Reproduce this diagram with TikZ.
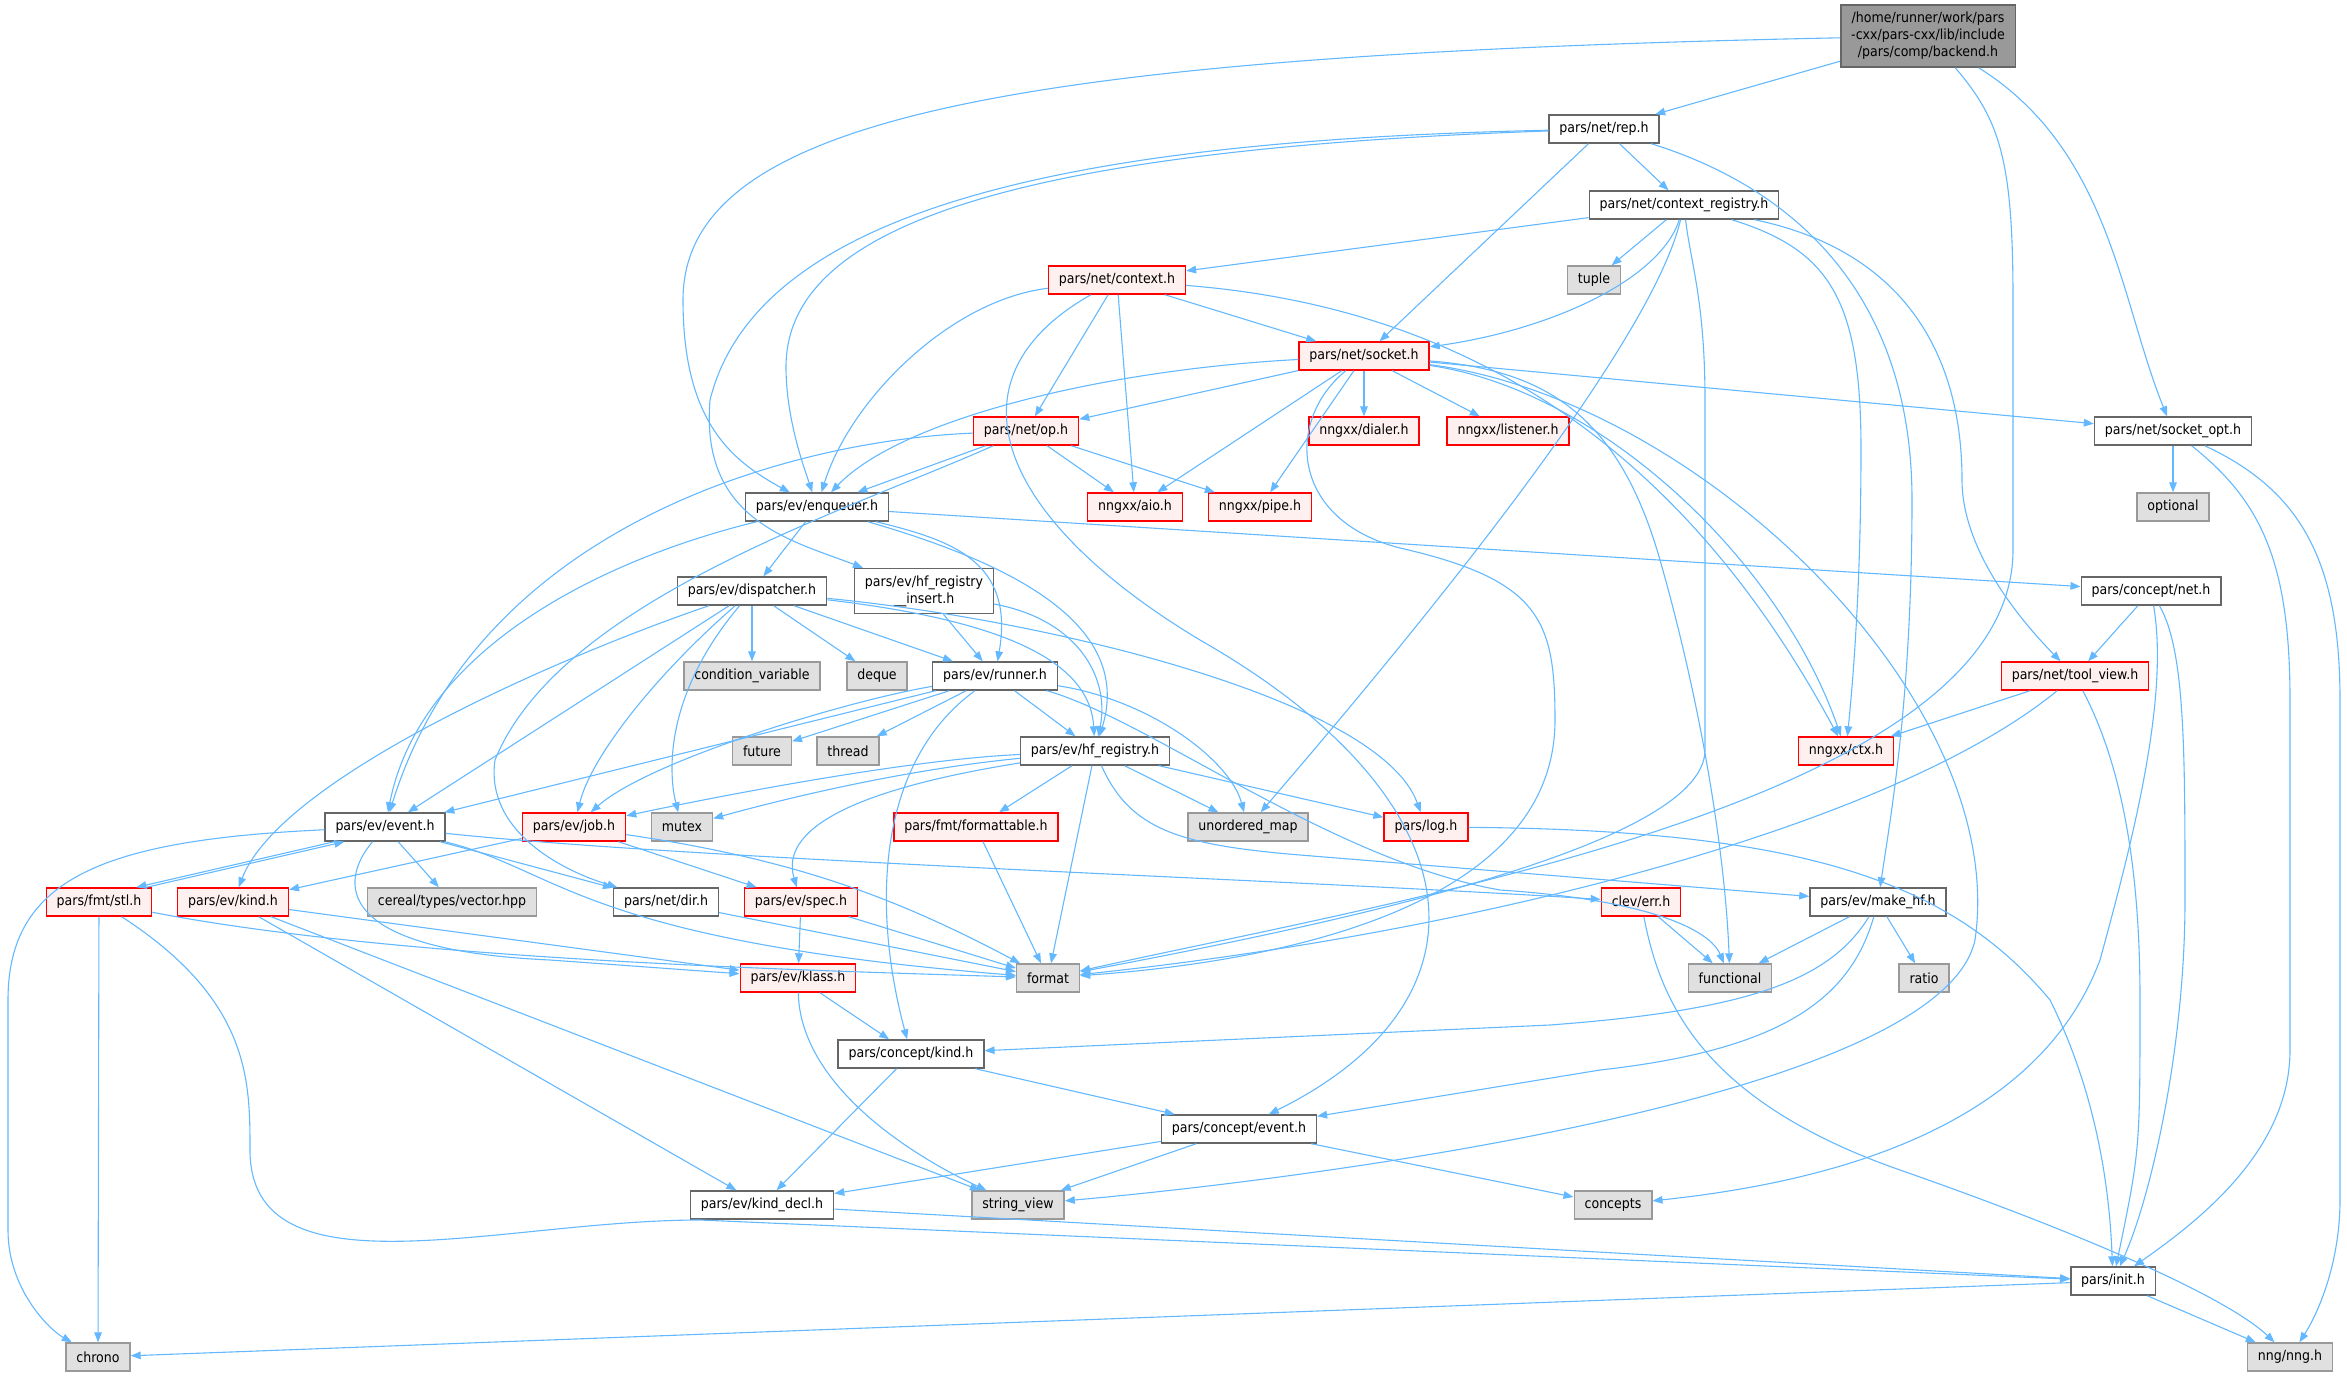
\documentclass[tikz,border=0pt]{standalone}
\usepackage{fontspec}
\setmainfont{DejaVu Sans Condensed}
\usepackage{xcolor}
\usepackage{tikz}
\usetikzlibrary{arrows.meta}

\definecolor{edgeblue}{RGB}{99,184,255}
\definecolor{boxgrey}{RGB}{102,102,102}
\definecolor{extfill}{RGB}{224,224,224}
\definecolor{extdraw}{RGB}{153,153,153}
\definecolor{redfill}{RGB}{255,240,240}
\definecolor{mainfill}{RGB}{153,153,153}

\begin{document}
\begin{tikzpicture}[x=0.5pt,y=-0.5pt,
    every node/.style={font=\fontsize{7}{8.5}\selectfont, inner xsep=5.2pt, inner ysep=0pt, minimum height=14pt, align=center},
    hdr/.style={draw=boxgrey, fill=white, line width=0.7pt},
    redhdr/.style={draw=red, fill=redfill, line width=0.7pt},
    sys/.style={draw=extdraw, fill=extfill, line width=0.7pt},
    mainhdr/.style={draw=boxgrey, fill=mainfill, line width=0.7pt, minimum height=31pt},
    dep/.style={draw=edgeblue, line width=0.55pt, -{Triangle[length=5pt,width=3.8pt]}}]
    \useasboundingbox (0,0) rectangle (2347,1376);

    \node[mainhdr] (back) at (1928,36) {/home/runner/work/pars\\-cxx/pars-cxx/lib/include\\/pars/comp/backend.h};
    \node[hdr] (rep) at (1604,129) {pars/net/rep.h};
    \node[hdr] (creg) at (1684,205) {pars/net/context\_registry.h};
    \node[sys] (tuple) at (1594,280) {tuple};
    \node[redhdr] (context) at (1117,280) {pars/net/context.h};
    \node[redhdr] (socket) at (1364,356) {pars/net/socket.h};
    \node[redhdr] (op) at (1026,431) {pars/net/op.h};
    \node[redhdr] (dialer) at (1364,431) {nngxx/dialer.h};
    \node[redhdr] (listener) at (1508,431) {nngxx/listener.h};
    \node[hdr] (sockopt) at (2173,431) {pars/net/socket\_opt.h};
    \node[sys] (optional) at (2173,507) {optional};
    \node[redhdr] (aio) at (1135,507) {nngxx/aio.h};
    \node[redhdr] (pipe) at (1260,507) {nngxx/pipe.h};
    \node[hdr] (enq) at (817,507) {pars/ev/enqueuer.h};
    \node[hdr] (disp) at (752,591) {pars/ev/dispatcher.h};
    \node[hdr, minimum height=22.5pt] (hfins) at (924,591) {pars/ev/hf\_registry\\\_\_insert.h};
    \node[hdr] (cnet) at (2151,591) {pars/concept/net.h};
    \node[sys] (condvar) at (752,676) {condition\_variable};
    \node[sys] (deque) at (877,676) {deque};
    \node[hdr] (runner) at (995,676) {pars/ev/runner.h};
    \node[redhdr] (toolview) at (2075,676) {pars/net/tool\_view.h};
    \node[sys] (future) at (762,751) {future};
    \node[sys] (thread) at (848,751) {thread};
    \node[hdr] (hfreg) at (1095,751) {pars/ev/hf\_registry.h};
    \node[redhdr] (ctx) at (1846,751) {nngxx/ctx.h};
    \node[hdr] (event) at (385,827) {pars/ev/event.h};
    \node[redhdr] (job) at (574,827) {pars/ev/job.h};
    \node[sys] (mutex) at (682,827) {mutex};
    \node[redhdr] (fmtable) at (976,827) {pars/fmt/formattable.h};
    \node[sys] (umap) at (1248,827) {unordered\_map};
    \node[redhdr] (log) at (1426,827) {pars/log.h};
    \node[redhdr] (stl) at (99,902) {pars/fmt/stl.h};
    \node[redhdr] (kind) at (233,902) {pars/ev/kind.h};
    \node[sys] (cereal) at (452,902) {cereal/types/vector.hpp};
    \node[hdr] (dir) at (666,902) {pars/net/dir.h};
    \node[redhdr] (spec) at (801,902) {pars/ev/spec.h};
    \node[redhdr] (err) at (1641,902) {clev/err.h};
    \node[hdr] (makehf) at (1878,902) {pars/ev/make\_hf.h};
    \node[redhdr] (klass) at (798,978) {pars/ev/klass.h};
    \node[sys] (format) at (1048,978) {format};
    \node[sys] (functional) at (1730,978) {functional};
    \node[sys] (ratio) at (1924,978) {ratio};
    \node[hdr] (ckind) at (911,1054) {pars/concept/kind.h};
    \node[hdr] (cevent) at (1239,1129) {pars/concept/event.h};
    \node[hdr] (kinddecl) at (762,1205) {pars/ev/kind\_decl.h};
    \node[sys] (strview) at (1018,1205) {string\_view};
    \node[sys] (concepts) at (1613,1205) {concepts};
    \node[hdr] (init) at (2113,1281) {pars/init.h};
    \node[sys] (chrono) at (98,1357) {chrono};
    \node[sys] (nng) at (2290,1357) {nng/nng.h};

    % backend.h
    \draw[dep] (back) .. controls (1000,55) and (683,120) .. (683,300) .. controls (683,420) and (730,460) .. (enq);
    \draw[dep] (back) -- (rep);
    \draw[dep] (back) .. controls (2000,120) and (2013,160) .. (2013,300) -- (2013,550) .. controls (2013,800) and (1400,900) .. (format);
    \draw[dep] (back) .. controls (2110,150) and (2120,300) .. (sockopt);
    % rep.h
    \draw[dep] (rep) .. controls (1100,140) and (760,200) .. (710,400) .. controls (700,520) and (790,540) .. (hfins);
    \draw[dep] (rep) .. controls (1000,150) and (786,230) .. (786,367) .. controls (786,420) and (805,470) .. (enq);
    \draw[dep] (rep) -- (socket);
    \draw[dep] (rep) -- (creg);
    \draw[dep] (rep) .. controls (1800,190) and (1912,300) .. (1912,500) .. controls (1912,700) and (1890,820) .. (makehf);
    % context_registry.h
    \draw[dep] (creg) -- (context);
    \draw[dep] (creg) -- (tuple);
    \draw[dep] (creg) .. controls (1660,280) and (1550,330) .. (socket);
    \draw[dep] (creg) .. controls (1650,350) and (1400,650) .. (umap);
    \draw[dep] (creg) .. controls (1690,260) and (1705,300) .. (1705,400) -- (1705,750) .. controls (1705,850) and (1300,930) .. (format);
    \draw[dep] (creg) .. controls (1830,250) and (1861,300) .. (1861,450) .. controls (1861,600) and (1851,700) .. (ctx);
    \draw[dep] (creg) .. controls (1900,250) and (1962,350) .. (1962,480) .. controls (1962,550) and (2020,620) .. (toolview);
    % context.h
    \draw[dep] (context) .. controls (950,300) and (850,400) .. (enq);
    \draw[dep] (context) .. controls (940,380) and (1000,520) .. (1200,640) .. controls (1480,800) and (1500,1000) .. (cevent);
    \draw[dep] (context) -- (op);
    \draw[dep] (context) -- (aio);
    \draw[dep] (context) -- (socket);
    \draw[dep] (context) .. controls (1500,310) and (1700,480) .. (ctx);
    % socket.h
    \draw[dep] (socket) .. controls (1100,370) and (900,420) .. (enq);
    \draw[dep] (socket) -- (op);
    \draw[dep] (socket) -- (aio);
    \draw[dep] (socket) -- (pipe);
    \draw[dep] (socket) -- (dialer);
    \draw[dep] (socket) -- (listener);
    \draw[dep] (socket) -- (sockopt);
    \draw[dep] (socket) .. controls (1600,390) and (1780,560) .. (ctx);
    \draw[dep] (socket) .. controls (1700,400) and (2010,700) .. (1975,940) .. controls (1940,1100) and (1300,1180) .. (strview);
    \draw[dep] (socket) .. controls (1550,370) and (1620,420) .. (1660,560) .. controls (1700,700) and (1725,850) .. (functional);
    \draw[dep] (socket) .. controls (1285,420) and (1290,520) .. (1400,548) .. controls (1540,580) and (1555,620) .. (1555,720) .. controls (1555,900) and (1300,960) .. (format);
    % op.h
    \draw[dep] (op) .. controls (800,440) and (480,520) .. (event);
    \draw[dep] (op) -- (enq);
    \draw[dep] (op) .. controls (850,510) and (560,600) .. (495,760) .. controls (485,830) and (560,870) .. (dir);
    \draw[dep] (op) -- (aio);
    \draw[dep] (op) -- (pipe);
    % enqueuer.h
    \draw[dep] (enq) -- (disp);
    \draw[dep] (enq) .. controls (950,540) and (1015,560) .. (runner);
    \draw[dep] (enq) .. controls (1000,560) and (1135,620) .. (hfreg);
    \draw[dep] (enq) .. controls (600,560) and (420,650) .. (event);
    \draw[dep] (enq) -- (cnet);
    % hf_registry__insert.h
    \draw[dep] (hfins) -- (runner);
    \draw[dep] (hfins) .. controls (1080,620) and (1110,680) .. (hfreg);
    % dispatcher.h
    \draw[dep] (disp) -- (condvar);
    \draw[dep] (disp) -- (deque);
    \draw[dep] (disp) -- (runner);
    \draw[dep] (disp) .. controls (1000,620) and (1090,660) .. (hfreg);
    \draw[dep] (disp) .. controls (1050,620) and (1380,700) .. (log);
    \draw[dep] (disp) -- (event);
    \draw[dep] (disp) .. controls (550,660) and (280,780) .. (kind);
    \draw[dep] (disp) .. controls (650,680) and (590,760) .. (job);
    \draw[dep] (disp) .. controls (660,700) and (670,780) .. (mutex);
    % runner.h
    \draw[dep] (runner) -- (event);
    \draw[dep] (runner) .. controls (850,700) and (650,760) .. (job);
    \draw[dep] (runner) -- (future);
    \draw[dep] (runner) -- (thread);
    \draw[dep] (runner) -- (hfreg);
    \draw[dep] (runner) .. controls (880,760) and (870,900) .. (ckind);
    \draw[dep] (runner) .. controls (1150,700) and (1230,760) .. (umap);
    \draw[dep] (runner) .. controls (1150,720) and (1330,860) .. (1500,890) .. controls (1650,900) and (1710,930) .. (functional);
    % hf_registry.h
    \draw[dep] (hfreg) .. controls (900,760) and (700,800) .. (job);
    \draw[dep] (hfreg) .. controls (900,770) and (780,800) .. (mutex);
    \draw[dep] (hfreg) .. controls (850,790) and (780,830) .. (spec);
    \draw[dep] (hfreg) -- (fmtable);
    \draw[dep] (hfreg) -- (umap);
    \draw[dep] (hfreg) -- (log);
    \draw[dep] (hfreg) -- (format);
    \draw[dep] (hfreg) .. controls (1130,830) and (1180,845) .. (1300,855) -- (makehf);
    % event.h
    \draw[dep] ([xshift=5pt]event.south west) -- ([xshift=-8pt]stl.north east);
    \draw[dep] ([xshift=-3pt]stl.north east) -- ([xshift=10pt]event.south west);
    \draw[dep] (event) .. controls (100,840) and (8,880) .. (8,1000) -- (8,1230) .. controls (8,1290) and (50,1330) .. (chrono);
    \draw[dep] (event) -- (cereal);
    \draw[dep] (event) -- (dir);
    \draw[dep] (event) .. controls (340,880) and (330,950) .. (550,960) -- (klass);
    \draw[dep] (event) .. controls (560,870) and (580,940) .. (format);
    \draw[dep] (event) .. controls (700,860) and (1300,880) .. (err);
    % fmt/stl.h
    \draw[dep] (stl) -- (chrono);
    \draw[dep] (stl) .. controls (400,960) and (800,970) .. (format);
    \draw[dep] (stl) .. controls (250,1000) and (250,1080) .. (250,1150) .. controls (250,1300) and (500,1220) .. (700,1220) -- (init);
    % kind.h, job.h, spec.h
    \draw[dep] (kind) -- (klass);
    \draw[dep] (kind) -- (kinddecl);
    \draw[dep] (kind) -- (strview);
    \draw[dep] (job) -- (kind);
    \draw[dep] (job) -- (spec);
    \draw[dep] (job) .. controls (800,860) and (900,900) .. (format);
    \draw[dep] (spec) -- (klass);
    \draw[dep] (spec) -- (format);
    \draw[dep] (dir) -- (format);
    \draw[dep] (fmtable) -- (format);
    \draw[dep] (log) .. controls (1800,830) and (1950,880) .. (2050,1000) .. controls (2100,1100) and (2110,1200) .. (init);
    % clev/err.h, make_hf.h
    \draw[dep] (err) -- (functional);
    \draw[dep] (err) .. controls (1660,1000) and (1700,1100) .. (1900,1170) .. controls (2100,1240) and (2230,1300) .. (nng);
    \draw[dep] (makehf) -- (functional);
    \draw[dep] (makehf) -- (ratio);
    \draw[dep] (makehf) .. controls (1830,980) and (1750,1010) .. (1550,1025) -- (ckind);
    \draw[dep] (makehf) .. controls (1850,1000) and (1780,1050) .. (1600,1070) -- (cevent);
    % klass.h, concept
    \draw[dep] (klass) -- (ckind);
    \draw[dep] (klass) .. controls (800,1080) and (900,1150) .. (strview);
    \draw[dep] (ckind) -- (cevent);
    \draw[dep] (ckind) -- (kinddecl);
    \draw[dep] (cevent) -- (kinddecl);
    \draw[dep] (cevent) -- (strview);
    \draw[dep] (cevent) -- (concepts);
    \draw[dep] (kinddecl) -- (init);
    \draw[dep] (init) -- (chrono);
    \draw[dep] (init) -- (nng);
    % socket_opt.h, concept/net.h, tool_view.h
    \draw[dep] (sockopt) -- (optional);
    \draw[dep] (sockopt) .. controls (2260,500) and (2290,560) .. (2290,700) -- (2290,1050) .. controls (2290,1150) and (2200,1220) .. (init);
    \draw[dep] (sockopt) .. controls (2300,490) and (2340,560) .. (2340,700) -- (2340,1200) .. controls (2340,1260) and (2320,1310) .. (nng);
    \draw[dep] (cnet) -- (toolview);
    \draw[dep] (cnet) .. controls (2170,700) and (2130,850) .. (2100,960) .. controls (2040,1120) and (1850,1180) .. (concepts);
    \draw[dep] (cnet) .. controls (2185,650) and (2185,750) .. (2185,900) .. controls (2185,1050) and (2150,1200) .. (init);
    \draw[dep] (toolview) -- (ctx);
    \draw[dep] (toolview) .. controls (1900,820) and (1500,930) .. (format);
    \draw[dep] (toolview) .. controls (2130,780) and (2140,900) .. (2140,1000) .. controls (2140,1150) .. (init);
\end{tikzpicture}
\end{document}
